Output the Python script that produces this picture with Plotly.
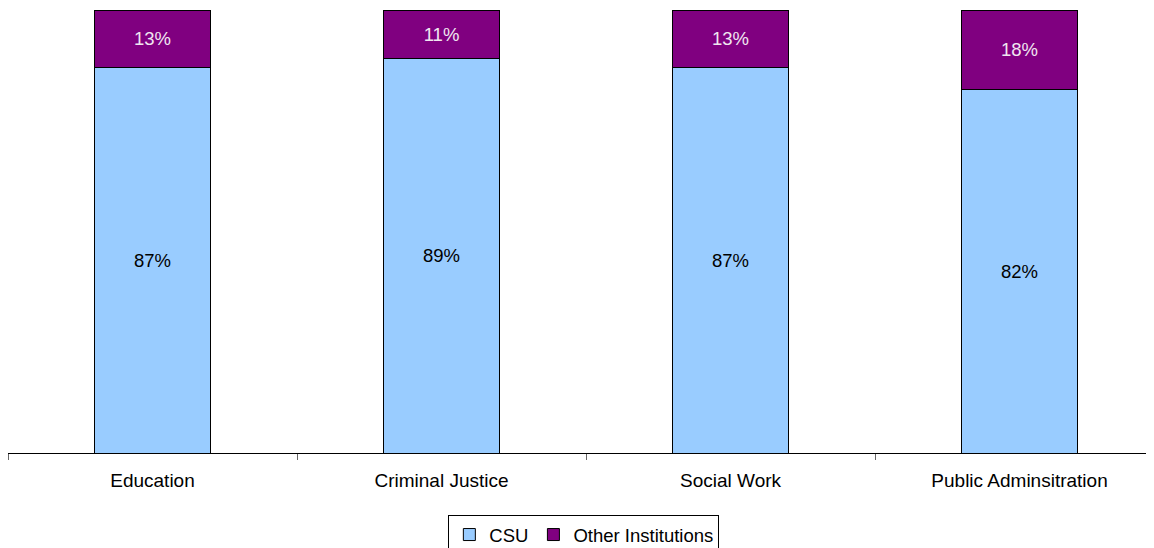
import plotly.graph_objects as go

categories = ["Education", "Criminal Justice", "Social Work", "Public Adminsitration"]
csu = [87, 89, 87, 82]
other = [13, 11, 13, 18]

font_family = "Liberation Sans, Arial, sans-serif"

fig = go.Figure()
fig.add_trace(go.Bar(
    x=categories, y=csu, name="CSU",
    marker=dict(color="#99CCFF", line=dict(color="#000000", width=1)),
    text=[f"{v}%" for v in csu], textposition="inside", insidetextanchor="middle",
    textfont=dict(color="#000000", size=18.5, family=font_family),
    width=0.40,
))
fig.add_trace(go.Bar(
    x=categories, y=other, name="Other Institutions",
    marker=dict(color="#800080", line=dict(color="#000000", width=1)),
    text=[f"{v}%" for v in other], textposition="inside", insidetextanchor="middle",
    textfont=dict(color="#F0E6F0", size=18.5, family=font_family),
    width=0.40,
))

fig.update_layout(
    barmode="stack",
    width=1154, height=548,
    margin=dict(l=0, r=0, t=2, b=103),
    paper_bgcolor="white", plot_bgcolor="white",
    font=dict(family=font_family, size=18.5, color="#000000"),
    showlegend=True,
    legend=dict(
        orientation="h", x=0.499, xanchor="center", y=-0.14, yanchor="top",
        bordercolor="#000000", borderwidth=1, font=dict(size=18.5),
        traceorder="normal", itemwidth=30, tracegroupgap=0,
    ),
    uniformtext=dict(mode="show", minsize=18),
)
fig.update_xaxes(
    type="category", range=[-0.5, 3.493],
    showline=True, linecolor="#000000", linewidth=1,
    ticks="outside", tickson="boundaries", ticklen=6, tickcolor="#666666",
    ticklabelstandoff=10,
    showgrid=False, tickfont=dict(size=19),
)
fig.update_yaxes(range=[0, 100], visible=False, showgrid=False)

fig.write_html("out.html")
